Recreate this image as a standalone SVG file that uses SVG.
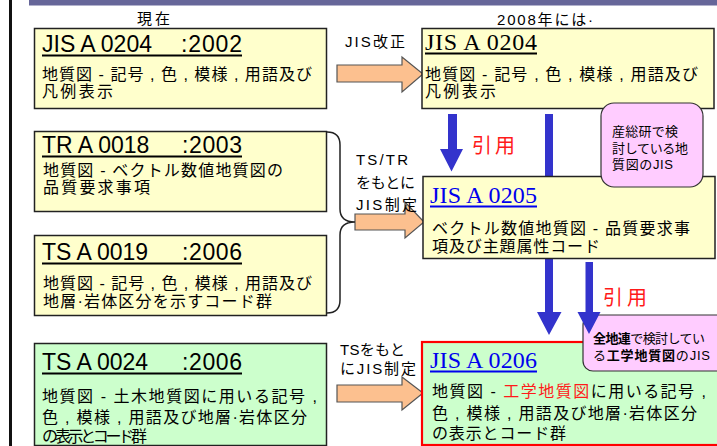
<svg xmlns="http://www.w3.org/2000/svg" width="717" height="446" viewBox="0 0 717 446">
<style>
.jp{font-family:"Liberation Sans","Noto Sans CJK JP",sans-serif;fill:#000}
.body{font-size:16px}
.ttl{font-family:"Liberation Sans","Noto Sans CJK JP",sans-serif;font-size:23px;fill:#000}
.ser{font-family:"Liberation Serif","Noto Serif CJK JP",serif;font-size:24px}
.yel{fill:#ffffcc;stroke:#222;stroke-width:1.5}
.grn{fill:#ccffcc;stroke:#222;stroke-width:1.5}
.pink{fill:#ffccff;stroke:#333;stroke-width:1.2}
.ul{stroke:#000;stroke-width:2}
.blu{fill:#3333cc}
.org{fill:#fcc08f;stroke:#555;stroke-width:1.2}
.red{fill:#ff1a1a}
.lbl{font-size:15px}
.co{font-size:13px}
</style>
<rect x="29" y="0" width="688" height="5.5" fill="#666699"/>
<rect x="9" y="0" width="3" height="446" fill="#111"/>
<text class="jp lbl" x="137" y="24" textLength="33">現在</text>
<text class="jp lbl" x="497" y="25" textLength="96">2008年には·</text>

<g id="connectors">
<path class="blu" d="M545,114H553V312H561.5L549,335L537,312H545Z"/>
<path class="blu" d="M448,114H457V149H463L451.5,171.5L440,149H448Z"/>
<path class="org" d="M337,65H402V57L423,74L402,92V82H337Z"/>
<path class="org" d="M355,214H405V202L424,222L405,238V230H355Z"/>
<path class="org" d="M337,385H402V377L423,393L402,410V402H337Z"/>
<path d="M327,132Q340,132 340,145V209Q340,222 355,222Q340,222 340,235V300Q340,313 327,313" fill="none" stroke="#222" stroke-width="1.5"/>
<text class="jp lbl" x="345" y="47" textLength="60">JIS改正</text>
<text class="jp lbl" x="356" y="165" textLength="52">TS/TR</text>
<text class="jp lbl" x="356" y="188" textLength="59">をもとに</text>
<text class="jp lbl" x="356" y="210" textLength="61">JIS制定</text>
<text class="jp lbl" x="340" y="355" textLength="65">TSをもと</text>
<text class="jp lbl" x="340" y="374" textLength="76">にJIS制定</text>
<text class="jp red" x="472" y="153" font-size="20" textLength="43">引用</text>
<text class="jp red" x="603" y="305" font-size="20" textLength="44">引用</text>
</g>

<g id="jis0204-2002">
<rect class="yel" x="34.5" y="28.5" width="292" height="80"/>
<text class="ttl" x="42" y="52">JIS A 0204</text>
<text class="ttl" x="181" y="52" textLength="61">:2002</text>
<line class="ul" x1="42" y1="55.5" x2="242" y2="55.5"/>
<text class="jp body" x="42" y="80" textLength="270">地質図 - 記号 , 色 , 模様 , 用語及び</text>
<text class="jp body" x="42" y="97" textLength="71">凡例表示</text>
</g>

<g id="jis0204-2008">
<rect class="yel" x="422" y="28.5" width="292" height="80"/>
<text class="ser" x="425" y="50" textLength="112" fill="#000">JIS A 0204</text>
<line class="ul" x1="425" y1="53.5" x2="537" y2="53.5"/>
<text class="jp body" x="425" y="80" textLength="273">地質図 - 記号 , 色 , 模様 , 用語及び</text>
<text class="jp body" x="425" y="97" textLength="71">凡例表示</text>
</g>

<g id="tr0018">
<rect class="yel" x="34.5" y="131.5" width="292" height="80"/>
<text class="ttl" x="42" y="153">TR A 0018</text>
<text class="ttl" x="182" y="153" textLength="60">:2003</text>
<line class="ul" x1="42" y1="156.5" x2="242" y2="156.5"/>
<text class="jp body" x="43" y="176" textLength="240">地質図 - ベクトル数値地質図の</text>
<text class="jp body" x="43" y="193" textLength="107">品質要求事項</text>
</g>

<g id="ts0019">
<rect class="yel" x="34.5" y="235.5" width="292" height="80"/>
<text class="ttl" x="42" y="260">TS A 0019</text>
<text class="ttl" x="182" y="260" textLength="60">:2006</text>
<line class="ul" x1="42" y1="263.5" x2="242" y2="263.5"/>
<text class="jp body" x="43" y="289" textLength="269">地質図 - 記号 , 色 , 模様 , 用語及び</text>
<text class="jp body" x="43" y="307" textLength="229">地層·岩体区分を示すコード群</text>
</g>

<g id="ts0024">
<rect class="grn" x="34.5" y="343.5" width="292" height="102"/>
<text class="ttl" x="42" y="370">TS A 0024</text>
<text class="ttl" x="182" y="370" textLength="60">:2006</text>
<line class="ul" x1="42" y1="373.5" x2="242" y2="373.5"/>
<text class="jp body" x="42" y="402" textLength="275">地質図 - 土木地質図に用いる記号 ,</text>
<text class="jp body" x="42" y="423" textLength="265">色 , 模様 , 用語及び地層·岩体区分</text>
<text class="jp body" x="42" y="442" textLength="105">の表示とコード群</text>
</g>

<g id="jis0205">
<rect class="yel" x="423" y="176.5" width="292" height="82"/>
<text class="ser" x="430" y="203" textLength="107" fill="#0000ee">JIS A 0205</text>
<line x1="430" y1="206.5" x2="537" y2="206.5" stroke="#0000ee" stroke-width="2"/>
<text class="jp body" x="432" y="234" textLength="258">ベクトル数値地質図 - 品質要求事</text>
<text class="jp body" x="432" y="252" textLength="168">項及び主題属性コード</text>
</g>

<g id="callout-aist">
<rect class="pink" x="601" y="103" width="102" height="84" rx="13"/>
<text class="jp co" x="612" y="136" textLength="66">産総研で検</text>
<text class="jp co" x="612" y="153" textLength="76">討している地</text>
<text class="jp co" x="612" y="169" textLength="61">質図のJIS</text>
</g>

<g id="jis0206">
<rect x="422" y="342" width="298" height="103" fill="#ccffcc" stroke="#ff0000" stroke-width="2.2"/>
<text class="ser" x="430" y="368" textLength="107" fill="#0000ee">JIS A 0206</text>
<line x1="430" y1="371.5" x2="537" y2="371.5" stroke="#0000ee" stroke-width="2"/>
<text class="jp body" x="432" y="397" textLength="274">地質図 - <tspan fill="#ff1a1a">工学地質図</tspan>に用いる記号 ,</text>
<text class="jp body" x="432" y="419" textLength="265">色 , 模様 , 用語及び地層·岩体区分</text>
<text class="jp body" x="432" y="439" textLength="134">の表示とコード群</text>
</g>

<g id="callout-zenchiren">
<rect class="pink" x="583" y="315" width="145" height="56" rx="10"/>
<text class="jp co" x="593" y="343" textLength="112"><tspan font-weight="bold">全地連</tspan>で検討してい</text>
<text class="jp co" x="593" y="360" textLength="117">る<tspan font-weight="bold">工学地質図</tspan>のJIS</text>
</g>

<path class="blu" d="M585.5,262H593V312H600.5L589,334L577.5,312H585.5Z"/>
</svg>
